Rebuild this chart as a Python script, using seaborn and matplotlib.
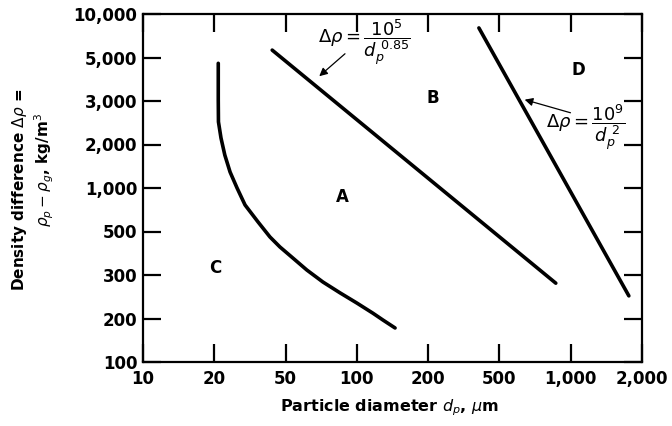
import numpy as np
import pandas as pd
import matplotlib
matplotlib.use("Agg")
import matplotlib.pyplot as plt
import seaborn as sns

# === 坐标轴刻度（原图刻度等距排列）===
x_ticks = [10, 20, 50, 100, 200, 500, 1000, 2000]
x_labels = ["10", "20", "50", "100", "200", "500", "1,000", "2,000"]
y_ticks = [100, 200, 300, 500, 1000, 2000, 3000, 5000, 10000]
y_labels = ["100", "200", "300", "500", "1,000", "2,000", "3,000", "5,000", "10,000"]

# === 边界线数据 (dp in um, delta rho in kg/m3) ===
# C / A boundary (curve)
ca_dp = [21.05, 21.05, 21.1, 21.8, 22.9, 24.5, 26.8, 29.7, 35.1, 40.9,
         46.5, 53.7, 61.5, 71.9, 84.9, 100, 117, 129, 145]
ca_rho = [4670, 3030, 2470, 2125, 1690, 1290, 1000, 763, 582, 469,
          417, 366, 318, 281, 254, 231, 210, 195, 172]
# A / B boundary: 10^5 / dp^0.85
ab_dp = [42.1, 865]
ab_rho = [5625, 278]
# B / D boundary: 10^9 / dp^2
bd_dp = [384, 1760]
bd_rho = [8010, 247]

# 分区标签
zone_names = ["A", "B", "C", "D"]
zone_pos = [(0.399, 0.475), (0.581, 0.759), (0.144, 0.270), (0.872, 0.839)]


def make_scale(ticks):
    lt = np.log10(ticks)
    idx = np.arange(len(ticks), dtype=float)

    def fwd(v):
        v = np.clip(np.asarray(v, dtype=float), 1e-9, None)
        return np.interp(np.log10(v), lt, idx)

    def inv(i):
        return 10 ** np.interp(np.asarray(i, dtype=float), idx, lt)

    return fwd, inv


sns.set_theme(style="ticks")
plt.rcParams["font.family"] = ["DejaVu Sans"]
plt.rcParams["mathtext.fontset"] = "dejavusans"
plt.rcParams["text.color"] = "black"

fig = plt.figure(figsize=(6.72, 4.26), dpi=100)
ax = fig.add_axes([143 / 672, 64 / 426, 499 / 672, 348 / 426])

ax.set_xscale("function", functions=make_scale(x_ticks))
ax.set_yscale("function", functions=make_scale(y_ticks))

lw = 2.6
for xs, ys in [(ca_dp, ca_rho), (ab_dp, ab_rho), (bd_dp, bd_rho)]:
    d = pd.DataFrame({"dp": xs, "rho": ys})
    sns.lineplot(data=d, x="dp", y="rho", sort=False, estimator=None,
                 color="black", linewidth=lw, ax=ax, legend=False)

ax.set_xlim(10, 2000)
ax.set_ylim(100, 10000)
ax.set_xticks(x_ticks)
ax.set_xticklabels(x_labels)
ax.set_yticks(y_ticks)
ax.set_yticklabels(y_labels)
ax.minorticks_off()
ax.set_xlabel("")
ax.set_ylabel("")

for s in ax.spines.values():
    s.set_linewidth(1.6)
    s.set_color("black")
ax.tick_params(axis="both", which="major", direction="in", length=13, width=1.6,
               top=True, right=True, colors="black", labelsize=12)
ax.tick_params(axis="x", pad=6)
ax.tick_params(axis="y", pad=4)
for lab in ax.get_xticklabels() + ax.get_yticklabels():
    lab.set_fontweight("bold")

# 分区字母
for name, (px, py) in zip(zone_names, zone_pos):
    ax.text(px, py, name, transform=ax.transAxes, ha="center", va="center",
            fontsize=12, fontweight="bold", color="black")

# 公式注释
ax.text(0.443, 0.918, r"$\Delta\rho = \dfrac{10^5}{d_p^{\ 0.85}}$",
        transform=ax.transAxes, ha="center", va="center", fontsize=13)
ax.annotate("", xy=(0.349, 0.816), xytext=(0.409, 0.891),
            xycoords="axes fraction", textcoords="axes fraction",
            arrowprops=dict(arrowstyle="-|>", color="black", lw=0.9,
                            mutation_scale=12))
ax.text(0.888, 0.672, r"$\Delta\rho = \dfrac{10^9}{d_p^{\ 2}}$",
        transform=ax.transAxes, ha="center", va="center", fontsize=13)
ax.annotate("", xy=(0.7595, 0.756), xytext=(0.862, 0.714),
            xycoords="axes fraction", textcoords="axes fraction",
            arrowprops=dict(arrowstyle="-|>", color="black", lw=0.9,
                            mutation_scale=12))

# 坐标轴标题
fig.text(390 / 672, 1 - 408 / 426, r"Particle diameter $d_p$, $\mu$m",
         ha="center", va="center", fontsize=11.5, fontweight="bold")
fig.text(20 / 672, 1 - 190 / 426, r"Density difference $\Delta\rho$ =",
         rotation=90, ha="center", va="center", fontsize=11, fontweight="bold")
fig.text(44 / 672, 1 - 170 / 426, r"$\rho_p - \rho_g$, kg/m$^3$",
         rotation=90, ha="center", va="center", fontsize=11, fontweight="bold")

fig.savefig("out.png", dpi=100, facecolor="white")
